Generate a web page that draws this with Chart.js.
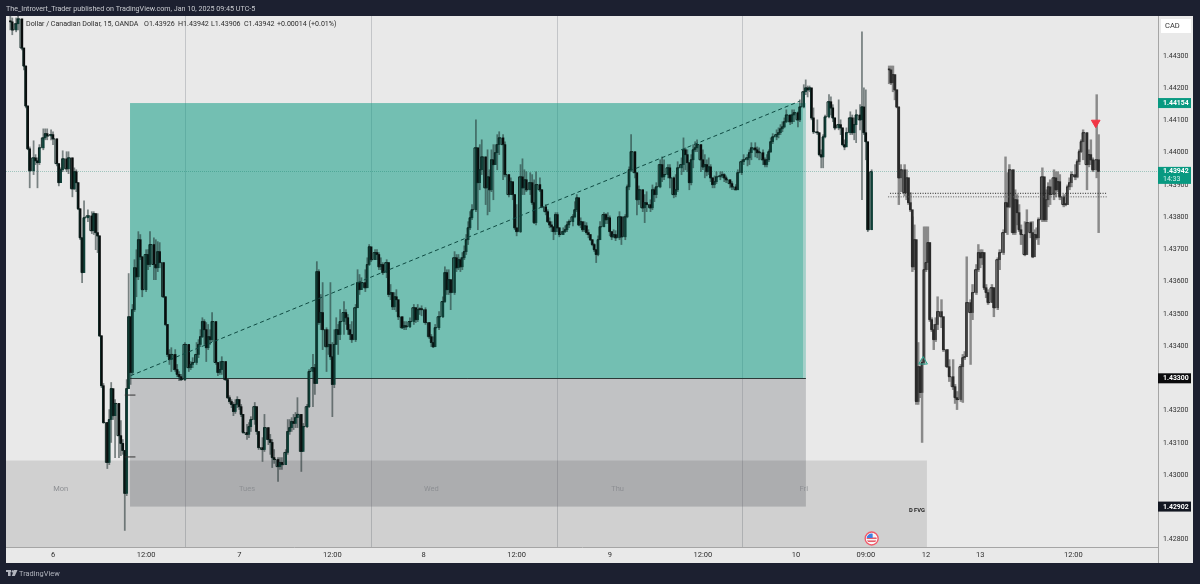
<!DOCTYPE html>
<html><head><meta charset="utf-8">
<style>html,body{margin:0;padding:0;background:#1c2030;overflow:hidden}canvas{display:block}</style>
<script src="https://cdn.jsdelivr.net/npm/chart.js@4"></script>
</head><body><canvas id="c" width="1200" height="584"></canvas>
<script>
const bars=[-22,-21,-19,-18,-16,-15,-14,-13,-12,-10,-9,-8,-7,-5,-4,-3,-1,0,2,3,
4,5,7,8,10,11,12,13,14,15,16,18,20,21,22,23,24,25,26,28,
29,30,31,32,34,35,36,37,38,39,
40,41,42,43,44,45,46,48,49,50,52,53,54,55,57,58,59,60,61,63,
64,65,66,68,70,71,72,74,75,76,77,78,79,80,81,82,84,85,86,87,
89,90,91,92,93,94,95,96,97,98,100,101,102,104,105,106,108,109,111,112,
113,114,116,117,118,120,121,122,123,124,125,126,128,129,131,132,134,135,136,137,
138,139,141,142,143,144,145,146,147,148,150,151,152,153,154,156,157,158,159,161,
162,163,164,166,167,168,169,170,172,173,174,175,176,177,178,180,181,182,184,186,
187,188,189,190,192,194,195,196,197,199,201,202,203,204,205,207,208,209,210,211,
212,213,214,215,216,218,219,220,221,223,224,225,226,227,228,229,230,232,233,235,
236,237,238,239,241,242,243,244,246,247,248,249,251,252,254,255,256,257,258,259,
260,261,263,264,265,266,268,269,270,271,272,273,274,275,276,277,278,279,280,281,
282,284,285,286,287,288,289,290,292,293,295,296,297,298,300,301,302,304,305,306,
308,309,310,311,313,314,315,317,318,320,321,322,324,325,326,327,328,329,330,331,
332,334,335,336,337,338,339,340,341,342,344,345,346,347,349,350,352,353,355,356,
358,359,360,362,363,364,366,367,368,369,370,371,373,374,375,376,377,378,380,381,
382,384,385,387,
388,389,390,391,392,394,395,396,397,398,400,401,402,403,405,406,407,408,409,411,
412,413,414,416,417,418,419,420,422,426,
431,432,433,434,435,436,437,439,440,441,442,443,444,445,446,447,448,449,450,451,
452,453,454,455,456,458,459,461,462,464,465,466,468,469,470,471,473,474,476,477,
478,479,480,481,482,484,485,487,488,490,491,492,493,495,496,497,498,499,501,502,
504,505,506,507,508,510,511,512,513,514,516,517,518,519,521,522,523,524,525,527,
528,529,530,531,533,534,535,536,538,539];
const closes=[1.44406,1.44381,1.44400,1.44415,1.44325,1.44269,1.44145,1.44012,1.43944,1.43984,1.43975,1.43969,1.44015,1.44046,1.44059,1.44052,1.44056,1.44043,1.43966,1.43907,
1.43947,1.43981,1.43950,1.43984,1.43888,1.43941,1.43907,1.43826,1.43736,1.43628,1.43798,1.43804,1.43758,1.43811,1.43752,1.43742,1.43432,1.43277,1.43163,1.43039,
1.43172,1.43268,1.43184,1.43222,1.43122,1.43098,1.43076,1.42943,1.43268,1.43491,
1.43318,1.43513,1.43643,1.43615,1.43730,1.43677,1.43575,1.43684,1.43653,1.43715,1.43653,1.43643,1.43693,1.43659,1.43553,1.43467,1.43374,1.43358,1.43374,1.43327,
1.43312,1.43305,1.43296,1.43405,1.43333,1.43343,1.43349,1.43374,1.43405,1.43429,1.43476,1.43451,1.43395,1.43429,1.43420,1.43476,1.43349,1.43318,1.43327,1.43352,
1.43296,1.43240,1.43228,1.43219,1.43197,1.43219,1.43234,1.43212,1.43188,1.43132,1.43126,1.43150,1.43172,1.43212,1.43135,1.43085,1.43079,1.43147,1.43110,1.43101,
1.43054,1.43048,1.43026,1.43039,1.43032,1.43070,1.43135,1.43147,1.43166,1.43160,1.43178,1.43188,1.43073,1.43150,1.43212,1.43321,1.43333,1.43284,1.43631,1.43473,
1.43504,1.43451,1.43398,1.43405,1.43367,1.43281,1.43405,1.43451,1.43436,1.43476,1.43504,1.43488,1.43451,1.43436,1.43420,1.43519,1.43597,1.43575,1.43597,1.43581,
1.43653,1.43708,1.43668,1.43690,1.43684,1.43646,1.43653,1.43628,1.43659,1.43560,1.43566,1.43522,1.43553,1.43544,1.43491,1.43457,1.43463,1.43460,1.43476,1.43519,
1.43482,1.43513,1.43513,1.43513,1.43473,1.43429,1.43411,1.43398,1.43457,1.43491,1.43538,1.43628,1.43575,1.43606,1.43566,1.43674,1.43643,1.43668,1.43646,1.43674,
1.43693,1.43730,1.43767,1.43798,1.43823,1.44015,1.43907,1.43947,1.43987,1.43891,1.43925,1.43885,1.43978,1.43963,1.44000,1.44025,1.44046,1.44025,1.43932,1.43870,
1.43910,1.43870,1.43767,1.43755,1.43925,1.43891,1.43916,1.43885,1.43907,1.43845,1.43783,1.43901,1.43885,1.43832,1.43817,1.43786,1.43776,1.43770,1.43755,1.43808,
1.43767,1.43746,1.43755,1.43761,1.43776,1.43786,1.43801,1.43823,1.43860,1.43776,1.43786,1.43761,1.43773,1.43752,1.43746,1.43730,1.43715,1.43699,1.43684,1.43730,
1.43770,1.43808,1.43792,1.43798,1.43755,1.43739,1.43746,1.43736,1.43801,1.43739,1.43801,1.43894,1.43947,1.44003,1.43938,1.43854,1.43885,1.43829,1.43845,1.43839,
1.43829,1.43885,1.43870,1.43894,1.43963,1.43925,1.43932,1.43953,1.43922,1.43870,1.43885,1.43953,1.43963,1.44009,1.43994,1.43969,1.43907,1.43978,1.44009,1.44015,
1.44025,1.43978,1.43956,1.43963,1.43941,1.43956,1.43922,1.43901,1.43910,1.43925,1.43928,1.43932,1.43922,1.43916,1.43904,1.43894,1.43885,1.43938,1.43972,1.43978,
1.43984,1.44000,1.44015,1.44009,1.44000,1.44000,1.43978,1.43963,1.43978,1.44003,1.44034,1.44049,1.44056,1.44062,1.44074,1.44080,1.44096,1.44117,1.44096,1.44117,
1.44124,1.44102,1.44142,1.44189,
1.44201,1.44195,1.44201,1.44108,1.44065,1.44062,1.43994,1.43987,1.44049,1.44111,1.44158,1.44139,1.44108,1.44077,1.44087,1.44077,1.44025,1.44018,1.44062,1.44108,
1.44062,1.44087,1.44117,1.44102,1.44142,1.44062,1.44034,1.43761,1.43941,null,
1.44257,1.44217,1.44242,1.44195,1.44142,1.43922,1.43947,1.43876,1.43922,1.43845,1.43823,1.43646,1.43730,1.43228,1.43336,1.43256,1.43349,1.43637,1.43659,1.43721,
1.43482,1.43451,1.43420,1.43467,1.43507,1.43491,1.43389,1.43336,1.43305,1.43274,1.43240,1.43234,1.43336,1.43364,1.43367,1.43535,1.43504,1.43566,1.43637,1.43690,
1.43674,1.43690,1.43581,1.43566,1.43535,1.43581,1.43519,1.43668,1.43690,1.43752,1.43845,1.43832,1.43947,1.43752,1.43854,1.43814,1.43761,1.43746,1.43684,1.43783,
1.43752,1.43677,1.43746,1.43736,1.43792,1.43925,1.43792,1.43854,1.43894,1.43870,1.43922,1.43885,1.43910,1.43863,1.43839,1.43839,1.43894,1.43907,1.43932,1.43925,
1.43972,1.44003,1.44034,1.44062,1.43963,1.43994,1.43978,1.43947,1.43978,1.43942];
const highs=[1.44424,1.44418,1.44418,1.44424,1.44415,1.44307,1.44269,1.44145,1.44018,1.44037,1.43994,1.43984,1.44025,1.44074,1.44074,1.44074,1.44071,1.44065,1.44043,1.43966,
1.43953,1.44006,1.44003,1.44003,1.43984,1.43953,1.43947,1.43907,1.43826,1.43736,1.43851,1.43823,1.43817,1.43817,1.43811,1.43811,1.43742,1.43432,1.43284,1.43163,
1.43203,1.43287,1.43256,1.43234,1.43222,1.43169,1.43110,1.43076,1.43296,1.43625,
1.43491,1.43529,1.43668,1.43699,1.43755,1.43746,1.43677,1.43699,1.43699,1.43755,1.43736,1.43730,1.43724,1.43721,1.43659,1.43553,1.43467,1.43389,1.43395,1.43389,
1.43343,1.43321,1.43312,1.43411,1.43405,1.43352,1.43364,1.43411,1.43420,1.43451,1.43488,1.43482,1.43473,1.43467,1.43451,1.43504,1.43476,1.43349,1.43352,1.43367,
1.43352,1.43296,1.43246,1.43234,1.43225,1.43234,1.43243,1.43234,1.43219,1.43188,1.43157,1.43163,1.43181,1.43225,1.43212,1.43135,1.43116,1.43188,1.43147,1.43126,
1.43110,1.43079,1.43054,1.43054,1.43054,1.43079,1.43172,1.43172,1.43178,1.43188,1.43194,1.43240,1.43188,1.43160,1.43219,1.43327,1.43374,1.43343,1.43662,1.43637,
1.43560,1.43597,1.43457,1.43451,1.43597,1.43411,1.43451,1.43488,1.43467,1.43513,1.43538,1.43513,1.43498,1.43467,1.43476,1.43529,1.43637,1.43622,1.43612,1.43637,
1.43674,1.43715,1.43699,1.43699,1.43699,1.43690,1.43674,1.43659,1.43668,1.43659,1.43591,1.43566,1.43566,1.43575,1.43529,1.43491,1.43476,1.43476,1.43488,1.43529,
1.43519,1.43529,1.43519,1.43525,1.43519,1.43473,1.43436,1.43429,1.43467,1.43507,1.43553,1.43646,1.43637,1.43637,1.43606,1.43693,1.43684,1.43684,1.43674,1.43690,
1.43711,1.43746,1.43786,1.43817,1.43839,1.44102,1.44015,1.44025,1.44040,1.43987,1.44009,1.43947,1.44009,1.44025,1.44025,1.44056,1.44065,1.44056,1.44034,1.43932,
1.43922,1.43894,1.43870,1.43839,1.43963,1.43981,1.43947,1.43941,1.43938,1.43932,1.43916,1.43941,1.43922,1.43885,1.43839,1.43823,1.43798,1.43786,1.43770,1.43814,
1.43814,1.43767,1.43767,1.43773,1.43786,1.43792,1.43808,1.43848,1.43870,1.43860,1.43798,1.43776,1.43786,1.43783,1.43761,1.43746,1.43730,1.43718,1.43699,1.43742,
1.43786,1.43814,1.43811,1.43814,1.43804,1.43755,1.43761,1.43758,1.43817,1.43801,1.43808,1.43900,1.43956,1.44056,1.44003,1.43932,1.43897,1.43885,1.43870,1.43879,
1.43854,1.43900,1.43891,1.43907,1.43978,1.43987,1.43978,1.43963,1.43963,1.43925,1.43932,1.43972,1.43984,1.44046,1.44015,1.44009,1.43969,1.43994,1.44025,1.44034,
1.44040,1.44025,1.44009,1.43994,1.43978,1.43984,1.43963,1.43922,1.43928,1.43941,1.43941,1.43941,1.43935,1.43928,1.43916,1.43910,1.43901,1.43947,1.43978,1.43994,
1.43994,1.44009,1.44031,1.44031,1.44018,1.44015,1.44009,1.43984,1.43994,1.44009,1.44046,1.44059,1.44071,1.44077,1.44087,1.44096,1.44108,1.44133,1.44117,1.44133,
1.44133,1.44127,1.44164,1.44211,
1.44226,1.44207,1.44207,1.44201,1.44139,1.44102,1.44062,1.44009,1.44056,1.44117,1.44180,1.44173,1.44149,1.44108,1.44164,1.44102,1.44077,1.44040,1.44077,1.44127,
1.44117,1.44108,1.44133,1.44149,1.44375,1.44201,1.44195,1.44031,1.43947,null,
1.44269,1.44269,1.44269,1.44242,1.44195,1.44142,1.43963,1.43963,1.43947,1.43922,1.43876,1.43801,1.43776,1.43730,1.43411,1.43336,1.43358,1.43770,1.43770,1.43770,
1.43721,1.43488,1.43467,1.43488,1.43553,1.43544,1.43491,1.43389,1.43358,1.43358,1.43281,1.43259,1.43343,1.43374,1.43383,1.43677,1.43544,1.43591,1.43653,1.43715,
1.43699,1.43699,1.43690,1.43591,1.43575,1.43591,1.43581,1.43674,1.43699,1.43761,1.43987,1.43938,1.43963,1.43947,1.43885,1.43870,1.43839,1.43776,1.43786,1.43823,
1.43786,1.43786,1.43761,1.43767,1.43798,1.43953,1.43925,1.43885,1.43907,1.43916,1.43947,1.43941,1.43941,1.43932,1.43870,1.43870,1.43900,1.43922,1.43941,1.43963,
1.43978,1.44009,1.44040,1.44071,1.44062,1.44009,1.44040,1.43984,1.44180,1.44056];
const lows=[1.44381,1.44366,1.44375,1.44381,1.44319,1.44257,1.44139,1.44009,1.43891,1.43932,1.43963,1.43891,1.43963,1.44009,1.44040,1.44040,1.44040,1.44025,1.43959,1.43897,
1.43916,1.43941,1.43941,1.43935,1.43863,1.43885,1.43879,1.43823,1.43730,1.43597,1.43628,1.43786,1.43749,1.43746,1.43699,1.43690,1.43429,1.43271,1.43160,1.43020,
1.43032,1.43101,1.43172,1.43054,1.43054,1.43060,1.43064,1.42828,1.42936,1.43268,
1.43281,1.43312,1.43507,1.43553,1.43606,1.43668,1.43553,1.43569,1.43637,1.43646,1.43606,1.43606,1.43631,1.43643,1.43550,1.43463,1.43367,1.43343,1.43321,1.43321,
1.43305,1.43293,1.43293,1.43293,1.43321,1.43327,1.43333,1.43343,1.43364,1.43398,1.43426,1.43405,1.43352,1.43389,1.43405,1.43414,1.43343,1.43308,1.43312,1.43312,
1.43293,1.43237,1.43222,1.43209,1.43184,1.43191,1.43209,1.43203,1.43181,1.43129,1.43110,1.43116,1.43135,1.43157,1.43126,1.43079,1.43042,1.43073,1.43094,1.43064,
1.43023,1.43036,1.42980,1.43017,1.43017,1.43042,1.43064,1.43126,1.43135,1.43141,1.43147,1.43147,1.43011,1.43079,1.43147,1.43209,1.43212,1.43250,1.43284,1.43467,
1.43451,1.43389,1.43321,1.43374,1.43358,1.43181,1.43271,1.43405,1.43374,1.43420,1.43436,1.43467,1.43436,1.43420,1.43411,1.43414,1.43519,1.43560,1.43575,1.43569,
1.43581,1.43650,1.43662,1.43674,1.43668,1.43637,1.43637,1.43622,1.43612,1.43553,1.43544,1.43513,1.43513,1.43507,1.43482,1.43454,1.43451,1.43451,1.43457,1.43467,
1.43473,1.43476,1.43498,1.43494,1.43467,1.43423,1.43398,1.43395,1.43398,1.43451,1.43488,1.43535,1.43560,1.43560,1.43513,1.43560,1.43631,1.43637,1.43631,1.43637,
1.43668,1.43684,1.43715,1.43761,1.43792,1.43817,1.43761,1.43885,1.43932,1.43839,1.43807,1.43817,1.43879,1.43854,1.43963,1.43947,1.43994,1.43916,1.43925,1.43863,
1.43870,1.43854,1.43761,1.43742,1.43752,1.43870,1.43870,1.43879,1.43870,1.43839,1.43780,1.43776,1.43879,1.43829,1.43807,1.43783,1.43767,1.43755,1.43730,1.43746,
1.43755,1.43739,1.43746,1.43752,1.43755,1.43767,1.43773,1.43798,1.43817,1.43773,1.43767,1.43755,1.43755,1.43746,1.43736,1.43727,1.43711,1.43693,1.43659,1.43680,
1.43730,1.43776,1.43780,1.43780,1.43742,1.43730,1.43736,1.43727,1.43730,1.43715,1.43730,1.43798,1.43885,1.43941,1.43922,1.43807,1.43839,1.43817,1.43783,1.43817,
1.43817,1.43823,1.43848,1.43860,1.43891,1.43910,1.43916,1.43922,1.43891,1.43860,1.43863,1.43879,1.43932,1.43941,1.43947,1.43941,1.43885,1.43900,1.43953,1.44003,
1.44003,1.43941,1.43947,1.43922,1.43928,1.43932,1.43910,1.43891,1.43891,1.43904,1.43916,1.43922,1.43910,1.43907,1.43891,1.43885,1.43885,1.43885,1.43932,1.43963,
1.43959,1.43963,1.43978,1.43987,1.43984,1.43978,1.43963,1.43956,1.43956,1.43972,1.44000,1.44028,1.44040,1.44046,1.44056,1.44065,1.44077,1.44093,1.44087,1.44090,
1.44096,1.44080,1.44096,1.44139,
1.44180,1.44173,1.44189,1.44102,1.44059,1.44056,1.43990,1.43953,1.43953,1.44046,1.44108,1.44117,1.44096,1.44071,1.44071,1.44056,1.44021,1.44009,1.44031,1.44056,
1.44056,1.44040,1.44031,1.44071,1.43854,1.44056,1.43978,1.43755,1.43761,null,
1.44214,1.44211,1.44189,1.44164,1.44139,1.43839,1.43879,1.43866,1.43854,1.43839,1.43817,1.43631,1.43637,1.43219,1.43219,1.43240,1.43101,1.43343,1.43631,1.43637,
1.43476,1.43445,1.43389,1.43414,1.43451,1.43457,1.43383,1.43333,1.43290,1.43265,1.43222,1.43203,1.43228,1.43225,1.43358,1.43374,1.43343,1.43482,1.43560,1.43631,
1.43643,1.43653,1.43575,1.43550,1.43529,1.43544,1.43491,1.43513,1.43637,1.43684,1.43752,1.43746,1.43829,1.43746,1.43746,1.43776,1.43755,1.43715,1.43680,1.43684,
1.43736,1.43674,1.43699,1.43730,1.43715,1.43786,1.43786,1.43786,1.43832,1.43839,1.43854,1.43863,1.43879,1.43854,1.43832,1.43835,1.43839,1.43885,1.43894,1.43916,
1.43922,1.43963,1.44000,1.43978,1.43885,1.43956,1.43963,1.43941,1.43922,1.43752];

const breakBar=428;
const xMin=-24.23, xMax=569.6, yMin=1.427766, yMax=1.444241;
const yTicks=[1.428,1.429,1.430,1.431,1.432,1.433,1.434,1.435,1.436,1.437,1.438,1.439,1.440,1.441,1.442,1.443];
const xTickBars=[0,48,96,144,191,239,287,335,383,419,450,478,526];
const xTickLabels=['6','12:00','7','12:00','8','12:00','9','12:00','10','09:00','12','13','12:00'];
const sessionBreaks=[68,164,260,355];
const dayNames=['Mon','Tues','Wed','Thu','Fri'];
const dayBars=[4,100,195,291,387];
const dayPrice=1.42955;
const longBarStart=39.7, longBarEnd=386.6, longFadeEnd=388.1;
const entryPrice=1.433, targetPrice=1.44154, stopPrice=1.42902;
const fvgTop=1.43045, fvgEndBar=450.5;
const trendBars=[40,385], trendPrices=[1.43308,1.44160];
const dotLinePrices=[1.43874,1.43863], dotLineBars=[[431.5,543.3],[430.5,543.3]];
const tickMarkPrices=[1.43248,1.43056], tickMarkBars=[37,42.5];
const lastPrice=1.43942;
const arrowDown=[537.5,1.44093], arrowUp=[448.5,1.43352], flagPoint=[422,1.42803];

if(bars.length!==closes.length||bars.length!==highs.length||bars.length!==lows.length)
  console.error('LENGTHS',bars.length,closes.length,highs.length,lows.length);

const bodies=[],wicksL=[],wicksR=[],steps=[],isUp=[];
for(let i=0;i<bars.length;i++){
  if(closes[i]==null){steps.push({x:bars[i],y:null});continue;}
  const prev=i>0&&closes[i-1]!=null?closes[i-1]:closes[i];
  bodies.push({x:bars[i],y:[Math.min(prev,closes[i]),Math.max(prev,closes[i])]});
  isUp.push(closes[i]>prev);
  (bars[i]>breakBar?wicksR:wicksL).push({x:bars[i],y:[lows[i],highs[i]]});
  steps.push({x:bars[i],y:closes[i]});
}
const F='Roboto, "Noto Sans", sans-serif';
const frame='#1c2030', paper='#e9e9e9';

const scene={id:'scene',
 beforeDraw(ch){const c=ch.ctx;c.save();c.fillStyle=frame;c.fillRect(0,0,1200,584);
   c.fillStyle=paper;c.fillRect(6,16,1187,547);c.restore();},
 beforeDatasetsDraw(ch){
   const c=ch.ctx,x=ch.scales.x,y=ch.scales.y,A=ch.chartArea;c.save();
   c.strokeStyle='rgba(60,70,80,.22)';c.lineWidth=1;
   sessionBreaks.forEach(b=>{const p=Math.round(x.getPixelForValue(b))+.5;c.beginPath();c.moveTo(p,A.top);c.lineTo(p,A.bottom);c.stroke();});
   const l=x.getPixelForValue(longBarStart),r=x.getPixelForValue(longBarEnd),rr=x.getPixelForValue(longFadeEnd);
   const yT=y.getPixelForValue(targetPrice),yE=y.getPixelForValue(entryPrice),yS=y.getPixelForValue(stopPrice);
   c.fillStyle='rgba(8,153,129,.52)';c.fillRect(l,yT,r-l,yE-yT);
   c.fillStyle='rgba(8,153,129,.3)';c.fillRect(r,yT,rr-r,yE-yT);
   c.fillStyle='rgba(120,122,128,.35)';c.fillRect(l,yE,rr-l,yS-yE);
   const fr=x.getPixelForValue(fvgEndBar),fT=y.getPixelForValue(fvgTop);
   c.fillStyle='rgba(0,0,0,.105)';c.fillRect(A.left,fT,fr-A.left,A.bottom-fT);
   const yL=Math.round(y.getPixelForValue(lastPrice))+.5;
   c.strokeStyle='rgba(8,120,100,.33)';c.setLineDash([1,1]);c.beginPath();c.moveTo(A.left,yL);c.lineTo(A.right,yL);c.stroke();c.setLineDash([]);
   c.strokeStyle='#2b3a38';c.lineWidth=1;c.beginPath();c.moveTo(l,Math.round(yE)+.5);c.lineTo(rr,Math.round(yE)+.5);c.stroke();
   c.fillStyle='#8d8f93';c.font='7.5px '+F;c.textAlign='center';c.textBaseline='middle';
   dayNames.forEach((d,i)=>c.fillText(d,x.getPixelForValue(dayBars[i]),y.getPixelForValue(dayPrice)));
   c.restore();
 },
 afterDraw(ch){
   const c=ch.ctx,x=ch.scales.x,y=ch.scales.y;c.save();c.textBaseline='middle';c.textAlign='left';
   c.fillStyle='#c9cbd0';c.font='7.15px '+F;c.fillText('The_Introvert_Trader published on TradingView.com, Jan 10, 2025 09:45 UTC-5',6,9);
   c.fillStyle='#2b2b2b';c.font='7.1px '+F;
   c.fillText('Dollar / Canadian Dollar, 15, OANDA',26,24.5);
   c.fillText('O1.43926',144,24.5);c.fillText('H1.43942',178,24.5);c.fillText('L1.43906',211,24.5);c.fillText('C1.43942',244,24.5);c.fillText('+0.00014 (+0.01%)',277,24.5);
   c.strokeStyle='#a5a5a5';c.lineWidth=1;c.beginPath();c.moveTo(1158.5,547);c.lineTo(1158.5,563);c.stroke();
   c.fillStyle='#fff';c.fillRect(1161,19,30,14);c.fillStyle='#333';c.font='7.5px '+F;c.fillText('CAD',1165,26);
   const badge=(t,p,col)=>{const yy=y.getPixelForValue(p);c.fillStyle=col;c.fillRect(1158,yy-5,33,10);c.fillStyle='#fff';c.font='bold 6.9px '+F;c.fillText(t,1163,yy+.3);};
   badge('1.44154',targetPrice,'#089981');badge('1.43300',entryPrice,'#0b0b0d');badge('1.42902',stopPrice,'#131722');
   const ly=y.getPixelForValue(lastPrice);c.fillStyle='#089981';c.fillRect(1158,ly-4.5,33,17);
   c.fillStyle='#fff';c.font='bold 6.9px '+F;c.fillText('1.43942',1163,ly);c.font='7px '+F;c.fillStyle='#d5f2ec';c.fillText('14:33',1163,ly+8);
   c.fillStyle='#222';c.font='bold 5.8px '+F;c.textAlign='right';c.fillText('D FVG',925,511);c.textAlign='left';
   const fx=x.getPixelForValue(flagPoint[0]),fy=y.getPixelForValue(flagPoint[1]);
   c.beginPath();c.arc(fx,fy,6.5,0,Math.PI*2);c.fillStyle='#fff';c.fill();c.lineWidth=1.4;c.strokeStyle='#f05a6a';c.stroke();
   c.save();c.beginPath();c.arc(fx,fy,5,0,Math.PI*2);c.clip();c.fillStyle='#f4f4f4';c.fillRect(fx-6,fy-6,12,12);
   c.fillStyle='#e64a5a';c.fillRect(fx-6,fy-1,12,1.4);c.fillRect(fx-6,fy+2,12,1.4);c.fillStyle='#3f7fe0';c.fillRect(fx-6,fy-6,7,5.5);c.restore();
   c.fillStyle='#b2b5be';c.fillRect(6,570,5,2);c.fillRect(8,570,2.6,6);c.beginPath();c.arc(12.8,571.4,1.2,0,7);c.fill();
   c.beginPath();c.moveTo(14,570);c.lineTo(17.5,570);c.lineTo(14.8,576);c.lineTo(11.8,576);c.closePath();c.fill();
   c.font='7.4px '+F;c.fillText('TradingView',19,574);
   c.restore();
 }};

const lineLike={type:'line',pointRadius:0,borderWidth:1,fill:false};
new Chart(document.getElementById('c'),{
 type:'bar',plugins:[scene],
 data:{datasets:[
  {...lineLike,label:'trend',data:trendBars.map((b,i)=>({x:b,y:trendPrices[i]})),borderColor:'#0f4a42',borderDash:[4,3],order:0},
  {...lineLike,label:'dot1',data:dotLineBars[0].map(b=>({x:b,y:dotLinePrices[0]})),borderColor:'#222',borderDash:[1,1.5],order:0},
  {...lineLike,label:'dot2',data:dotLineBars[1].map(b=>({x:b,y:dotLinePrices[1]})),borderColor:'#555',borderDash:[1,1.5],order:0},
  {...lineLike,label:'mark1',data:tickMarkBars.map(b=>({x:b,y:tickMarkPrices[0]})),borderColor:'#333',order:0},
  {...lineLike,label:'mark2',data:tickMarkBars.map(b=>({x:b,y:tickMarkPrices[1]})),borderColor:'#333',order:0},
  {type:'scatter',label:'sell',data:[{x:arrowDown[0],y:arrowDown[1]}],pointStyle:'triangle',rotation:180,pointRadius:5,backgroundColor:'#f23645',borderColor:'#f23645',order:0},
  {type:'scatter',label:'buy',data:[{x:arrowUp[0],y:arrowUp[1]}],pointStyle:'triangle',pointRadius:5,backgroundColor:'rgba(0,0,0,0)',borderColor:'#2aa890',borderWidth:1,order:0},
  {type:'line',label:'close',data:steps,stepped:'middle',pointRadius:0,borderWidth:1,spanGaps:false,fill:false,borderColor:'#0d1f1c',
   segment:{borderColor:s=>s.p0.parsed.x>breakBar?'#2a2a2a':'#0d2622'},order:1},
  {label:'body',data:bodies,grouped:false,barThickness:1.8,minBarLength:1,order:2,borderSkipped:false,
   backgroundColor:s=>{const up=isUp[s.dataIndex],r=s.raw&&s.raw.x>breakBar;return r?(up?'#4a4a4a':'#2a2a2a'):(up?'#0f4038':'#090c0c');}},
  {label:'wickL',data:wicksL,grouped:false,barThickness:1.1,order:3,backgroundColor:'rgba(30,45,45,.55)',borderSkipped:false},
  {label:'wickR',data:wicksR,grouped:false,barThickness:1.8,order:3,backgroundColor:'#8a8a8a',borderSkipped:false}
 ]},
 options:{responsive:false,animation:false,devicePixelRatio:1,
  layout:{padding:{left:6,top:16,right:7,bottom:21}},
  plugins:{legend:{display:false},tooltip:{enabled:false}},
  scales:{
   x:{type:'linear',min:xMin,max:xMax,offset:false,
     grid:{display:false,drawTicks:false},border:{display:true,color:'#a5a5a5'},
     afterBuildTicks:s=>{s.ticks=xTickBars.map(v=>({value:v}));},
     afterFit:s=>{s.height=16;},
     ticks:{autoSkip:false,maxRotation:0,minRotation:0,padding:4,color:'#2e2e2e',font:{family:F,size:7.5},
       callback:v=>{const i=xTickBars.indexOf(v);return i<0?'':xTickLabels[i];}}},
   y:{type:'linear',position:'right',min:yMin,max:yMax,
     grid:{display:false,drawTicks:false},border:{display:true,color:'#a5a5a5'},
     afterBuildTicks:s=>{s.ticks=yTicks.map(v=>({value:v}));},
     afterFit:s=>{s.width=35;},
     ticks:{autoSkip:false,padding:5,color:'#2e2e2e',font:{family:F,size:7},callback:v=>v.toFixed(5)}}
  }}
});
</script></body></html>
